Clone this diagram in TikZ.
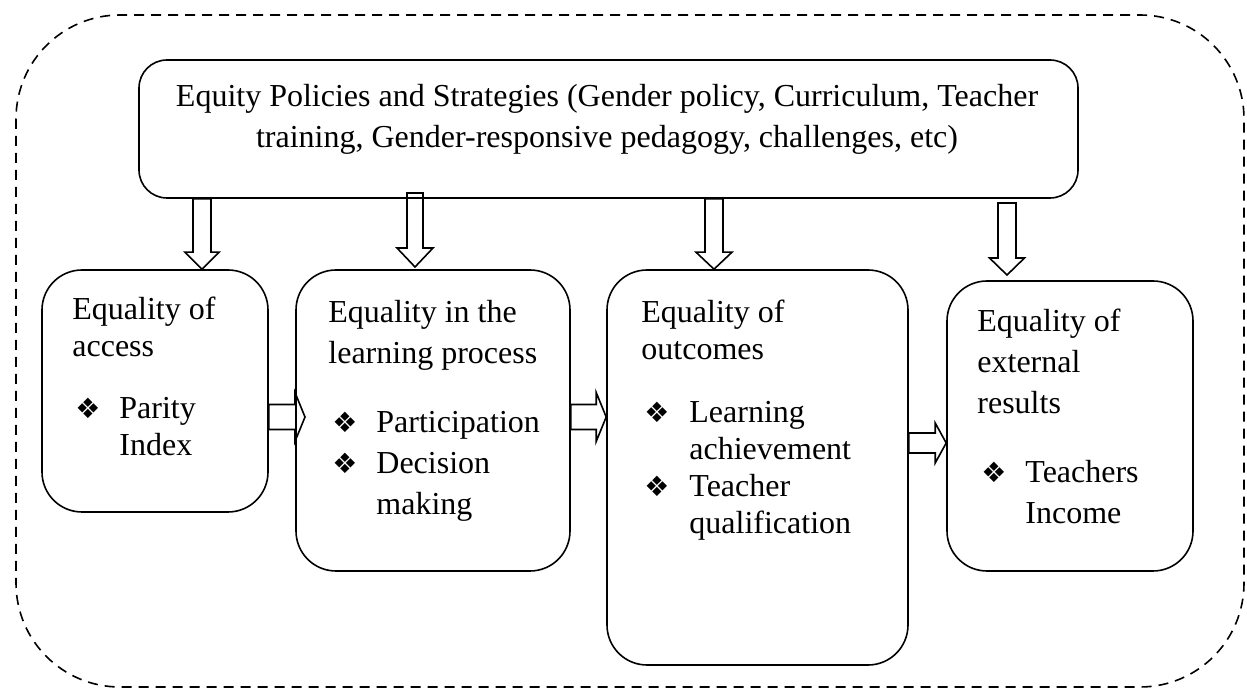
\documentclass[tikz,border=0pt]{standalone}
\usepackage{fontspec}
\setmainfont{Liberation Serif}
\newfontfamily\dingfont{DejaVu Sans}
\usetikzlibrary{calc,fit}

\newcommand{\dia}{{\dingfont\fontsize{14}{14}\selectfont ❖}}

\tikzset{
  ebox/.style={draw, line width=0.8pt, rounded corners=20pt, inner sep=0pt},
  txt/.style={anchor=base west, inner sep=0pt, font=\fontsize{16}{20.5}\selectfont},
  tight/.style={font=\fontsize{16}{18.5}\selectfont},
  blockarrow/.style n args={3}{draw, line width=0.8pt, to path={
      ($(\tikztostart)!#1!90:(\tikztotarget)$)
      -- ($(\tikztotarget)!#3!(\tikztostart)!#1!-90:(\tikztostart)$)
      -- ($(\tikztotarget)!#3!(\tikztostart)!#2!-90:(\tikztostart)$)
      -- (\tikztotarget)
      -- ($(\tikztotarget)!#3!(\tikztostart)!#2!90:(\tikztostart)$)
      -- ($(\tikztotarget)!#3!(\tikztostart)!#1!90:(\tikztostart)$)
      -- ($(\tikztostart)!#1!-90:(\tikztotarget)$)
      -- cycle}}
}

\begin{document}
\begin{tikzpicture}[x=0.5pt, y=-0.5pt]
  \useasboundingbox (0,0) rectangle (1247,688);

  % dashed frame
  \draw [line width=0.8pt, dash pattern=on 5pt off 3.5pt, rounded corners=52pt] (16,15) rectangle (1244,687);

  % boxes
  \node [ebox, rounded corners=14pt, fit={(139,60) (1078,198)}] (policies) {};
  \node [ebox, fit={(42,270) (268,512)}] (access) {};
  \node [ebox, fit={(296,270) (570,571)}] (learning) {};
  \node [ebox, fit={(607,270) (908,665)}] (outcomes) {};
  \node [ebox, fit={(947,281) (1193,571)}] (results) {};

  % texts
  \node [txt, anchor=base] (policies text) at (607,107)
    {\begin{tabular}[t]{@{}c@{}}Equity Policies and Strategies (Gender policy, Curriculum, Teacher\\
     training, Gender-responsive pedagogy, challenges, etc)\end{tabular}};

  \node [txt, tight] (access title) at (72,320) {\begin{tabular}[t]{@{}l@{}}Equality of\\access\end{tabular}};
  \node [txt, tight] (access list) at (75,419)
    {\begin{tabular}[t]{@{}p{22pt}@{}l@{}}\dia & Parity\\ & Index\end{tabular}};

  \node [txt] (learning title) at (328,323) {\begin{tabular}[t]{@{}l@{}}Equality in the\\learning process\end{tabular}};
  \node [txt] (learning list) at (332,433)
    {\begin{tabular}[t]{@{}p{22pt}@{}l@{}}\dia & Participation\\ \dia & Decision\\ & making\end{tabular}};

  \node [txt, tight] (outcomes title) at (641,323) {\begin{tabular}[t]{@{}l@{}}Equality of\\outcomes\end{tabular}};
  \node [txt, tight] (outcomes list) at (644,423)
    {\begin{tabular}[t]{@{}p{22.5pt}@{}l@{}}\dia & Learning\\ & achievement\\ \dia & Teacher\\ & qualification\end{tabular}};

  \node [txt] (results title) at (977,332) {\begin{tabular}[t]{@{}l@{}}Equality of\\external\\results\end{tabular}};
  \node [txt] (results list) at (981,483)
    {\begin{tabular}[t]{@{}p{22pt}@{}l@{}}\dia & Teachers\\ & Income\end{tabular}};

  % arrow ends
  \coordinate (d1s) at (202,0 |- policies.south);
  \coordinate (d1e) at (202,0 |- access.north);
  \coordinate (d2s) at (415,193);
  \coordinate (d2e) at (415,267);
  \coordinate (d3s) at (714,0 |- policies.south);
  \coordinate (d3e) at (714,0 |- outcomes.north);
  \coordinate (d4s) at (1007,203);
  \coordinate (d4e) at (1007,275);
  \coordinate (r1s) at (access.east |- 0,417);
  \coordinate (r1e) at (305,417);
  \coordinate (r2s) at (learning.east |- 0,417);
  \coordinate (r2e) at (outcomes.west |- 0,417);
  \coordinate (r3s) at (outcomes.east |- 0,443);
  \coordinate (r3e) at (results.west |- 0,443);

  % block arrows
  \draw [blockarrow={4.5pt}{8.5pt}{8.5pt}] (d1s) to (d1e);
  \draw [blockarrow={4pt}{9pt}{9.5pt}] (d2s) to (d2e);
  \draw [blockarrow={4.5pt}{9pt}{8.5pt}] (d3s) to (d3e);
  \draw [blockarrow={4.5pt}{8.75pt}{8.5pt}] (d4s) to (d4e);
  \draw [blockarrow={6.25pt}{12.25pt}{5pt}] (r1s) to (r1e);
  \draw [blockarrow={6.25pt}{12.25pt}{5pt}] (r2s) to (r2e);
  \draw [blockarrow={5pt}{10pt}{5.5pt}] (r3s) to (r3e);
\end{tikzpicture}
\end{document}
